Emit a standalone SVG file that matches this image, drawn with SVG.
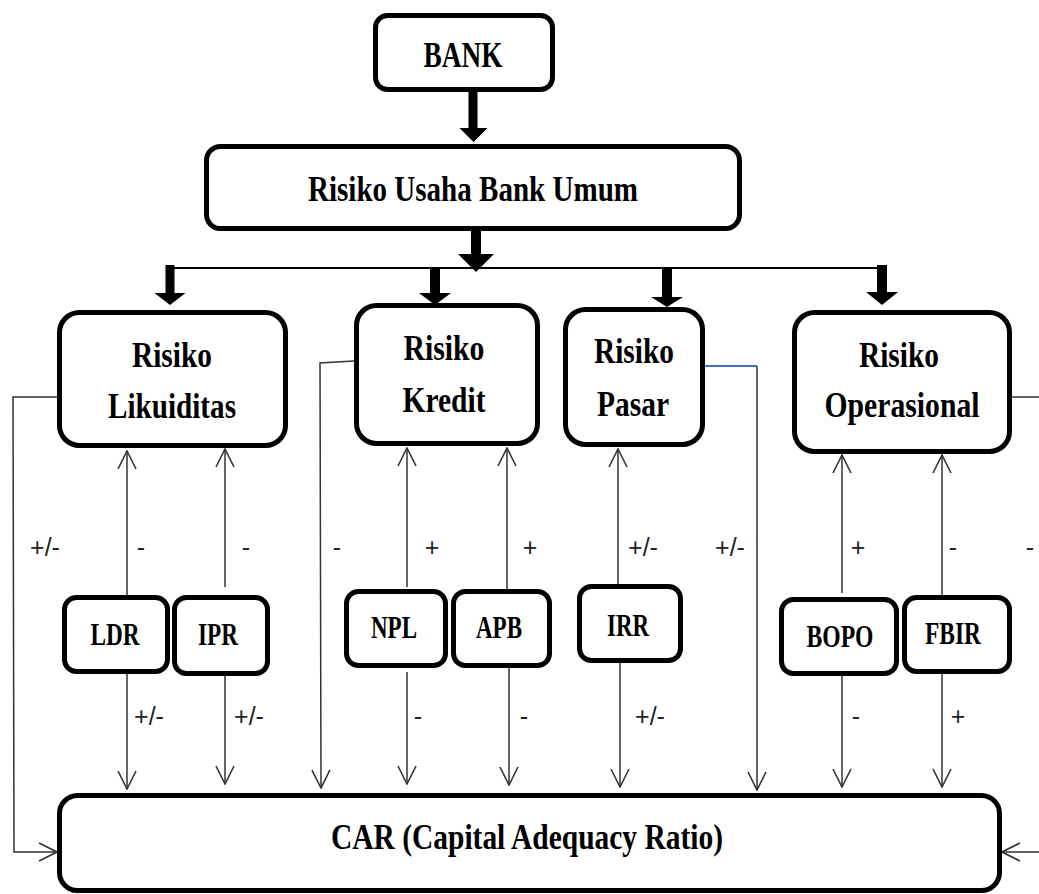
<svg xmlns="http://www.w3.org/2000/svg" width="1039" height="894" viewBox="0 0 1039 894">
<style>
.box{fill:#fff;stroke:#000;stroke-width:5}
.t{font-family:"Liberation Serif","Times New Roman",serif;font-weight:bold;fill:#000;text-anchor:middle}
.big{font-size:36px}
.sm{font-size:31px}
.lbl{font-family:"Liberation Sans",Arial,sans-serif;font-size:25px;fill:#222;text-anchor:middle}
.ln{fill:none;stroke:#333;stroke-width:1.5}
.thk{fill:#000;stroke:none}
</style>
<defs>
<marker id="open" viewBox="0 0 20 20" refX="19" refY="10" markerWidth="20" markerHeight="20" markerUnits="userSpaceOnUse" orient="auto">
<path d="M1,1 L19,10 L1,19" fill="none" stroke="#333" stroke-width="1.6"/>
</marker>
</defs>
<g id="connectors">
<path class="thk" d="M468.5,92 h9 v36 h10 l-14,14 l-14,-14 h9 z"/>
<path class="thk" d="M471,230 h10 v24 h13 l-18,18 l-18,-18 h13 z"/>
<line x1="170" y1="268" x2="887" y2="268" stroke="#000" stroke-width="2"/>
<path class="thk" d="M165.5,265 h9 v28 h11 l-15.5,12 l-15.5,-12 h11 z"/>
<path class="thk" d="M430,268 h10 v25 h11 l-16,12 l-16,-12 h11 z"/>
<path class="thk" d="M662,268 h10 v29 h11 l-16,10 l-16,-10 h11 z"/>
<path class="thk" d="M877,265 h10 v27 h11 l-16,13 l-16,-13 h11 z"/>
<polyline class="ln" points="57,397 13,397 14,852 57,852" marker-end="url(#open)"/>
<polyline class="ln" points="354,361 320,363 321,788" marker-end="url(#open)"/>
<line x1="705" y1="366" x2="757" y2="366" stroke="#4472C4" stroke-width="1.8"/>
<polyline class="ln" points="757,366 757,790" marker-end="url(#open)"/>
<line class="ln" x1="1012" y1="397" x2="1039" y2="397"/>
<line class="ln" x1="1039" y1="852" x2="1002" y2="852" marker-end="url(#open)"/>
<line class="ln" x1="127" y1="595" x2="127" y2="451" marker-end="url(#open)"/>
<line class="ln" x1="225" y1="587" x2="225" y2="449" marker-end="url(#open)"/>
<line class="ln" x1="407" y1="587" x2="407" y2="448" marker-end="url(#open)"/>
<line class="ln" x1="507" y1="589" x2="507" y2="448" marker-end="url(#open)"/>
<line class="ln" x1="618" y1="584" x2="618" y2="449" marker-end="url(#open)"/>
<line class="ln" x1="842" y1="593" x2="842" y2="455" marker-end="url(#open)"/>
<line class="ln" x1="942" y1="595" x2="942" y2="455" marker-end="url(#open)"/>
<line class="ln" x1="127" y1="674" x2="127" y2="789" marker-end="url(#open)"/>
<line class="ln" x1="225" y1="676" x2="225" y2="784" marker-end="url(#open)"/>
<line class="ln" x1="407" y1="672" x2="407" y2="784" marker-end="url(#open)"/>
<line class="ln" x1="509" y1="668" x2="509" y2="785" marker-end="url(#open)"/>
<line class="ln" x1="620" y1="663" x2="620" y2="787" marker-end="url(#open)"/>
<line class="ln" x1="842" y1="676" x2="842" y2="787" marker-end="url(#open)"/>
<line class="ln" x1="942" y1="674" x2="942" y2="787" marker-end="url(#open)"/>
</g>
<g id="labels">
<text class="lbl" x="45" y="556">+/-</text>
<text class="lbl" x="141" y="556">-</text>
<text class="lbl" x="246" y="556">-</text>
<text class="lbl" x="337" y="556">-</text>
<text class="lbl" x="432" y="556">+</text>
<text class="lbl" x="530" y="556">+</text>
<text class="lbl" x="643" y="556">+/-</text>
<text class="lbl" x="730" y="556">+/-</text>
<text class="lbl" x="858" y="556">+</text>
<text class="lbl" x="953" y="556">-</text>
<text class="lbl" x="1030" y="556">-</text>
<text class="lbl" x="149" y="725">+/-</text>
<text class="lbl" x="249" y="725">+/-</text>
<text class="lbl" x="418" y="725">-</text>
<text class="lbl" x="524" y="725">-</text>
<text class="lbl" x="650" y="725">+/-</text>
<text class="lbl" x="856" y="725">-</text>
<text class="lbl" x="958" y="725">+</text>
</g>
<g id="bank"><rect class="box" x="375.5" y="15.5" width="177" height="74" rx="12"/>
<text class="t big" x="463" y="67" textLength="79" lengthAdjust="spacingAndGlyphs">BANK</text></g>
<g id="usaha"><rect class="box" x="206.5" y="146.5" width="533" height="82" rx="14"/>
<text class="t big" x="473" y="201" textLength="330" lengthAdjust="spacingAndGlyphs">Risiko Usaha Bank Umum</text></g>
<g id="likuiditas"><rect class="box" x="59.5" y="312.5" width="226" height="133" rx="20"/>
<text class="t big" x="172" y="367" textLength="80" lengthAdjust="spacingAndGlyphs">Risiko</text>
<text class="t big" x="172" y="418" textLength="128" lengthAdjust="spacingAndGlyphs">Likuiditas</text></g>
<g id="kredit"><rect class="box" x="356.5" y="305.5" width="181" height="138" rx="20"/>
<text class="t big" x="444" y="360" textLength="81" lengthAdjust="spacingAndGlyphs">Risiko</text>
<text class="t big" x="444" y="412" textLength="83" lengthAdjust="spacingAndGlyphs">Kredit</text></g>
<g id="pasar"><rect class="box" x="565.5" y="309.5" width="137" height="135" rx="20"/>
<text class="t big" x="634" y="363" textLength="80" lengthAdjust="spacingAndGlyphs">Risiko</text>
<text class="t big" x="633" y="416" textLength="72" lengthAdjust="spacingAndGlyphs">Pasar</text></g>
<g id="operasional"><rect class="box" x="794.5" y="312.5" width="215" height="139" rx="20"/>
<text class="t big" x="899" y="367" textLength="80" lengthAdjust="spacingAndGlyphs">Risiko</text>
<text class="t big" x="902" y="417" textLength="155" lengthAdjust="spacingAndGlyphs">Operasional</text></g>
<g id="ldr"><rect class="box" x="64.5" y="597.5" width="103" height="74" rx="12"/>
<text class="t sm" x="115" y="645" textLength="49" lengthAdjust="spacingAndGlyphs">LDR</text></g>
<g id="ipr"><rect class="box" x="174.5" y="597.5" width="93" height="76" rx="12"/>
<text class="t sm" x="218" y="645" textLength="40" lengthAdjust="spacingAndGlyphs">IPR</text></g>
<g id="npl"><rect class="box" x="346.5" y="591.5" width="99" height="74" rx="12"/>
<text class="t sm" x="394" y="638" textLength="46" lengthAdjust="spacingAndGlyphs">NPL</text></g>
<g id="apb"><rect class="box" x="453.5" y="591.5" width="96" height="74" rx="12"/>
<text class="t sm" x="499" y="638" textLength="46" lengthAdjust="spacingAndGlyphs">APB</text></g>
<g id="irr"><rect class="box" x="579.5" y="586.5" width="101" height="74" rx="12"/>
<text class="t sm" x="628" y="636" textLength="42" lengthAdjust="spacingAndGlyphs">IRR</text></g>
<g id="bopo"><rect class="box" x="781.5" y="599.5" width="115" height="74" rx="12"/>
<text class="t sm" x="840" y="647" textLength="67" lengthAdjust="spacingAndGlyphs">BOPO</text></g>
<g id="fbir"><rect class="box" x="904.5" y="597.5" width="105" height="74" rx="12"/>
<text class="t sm" x="953" y="644" textLength="56" lengthAdjust="spacingAndGlyphs">FBIR</text></g>
<g id="car"><rect class="box" x="59.5" y="795.5" width="940" height="95" rx="18"/>
<text class="t big" x="527" y="849" textLength="392" lengthAdjust="spacingAndGlyphs">CAR (Capital Adequacy Ratio)</text></g>
</svg>
